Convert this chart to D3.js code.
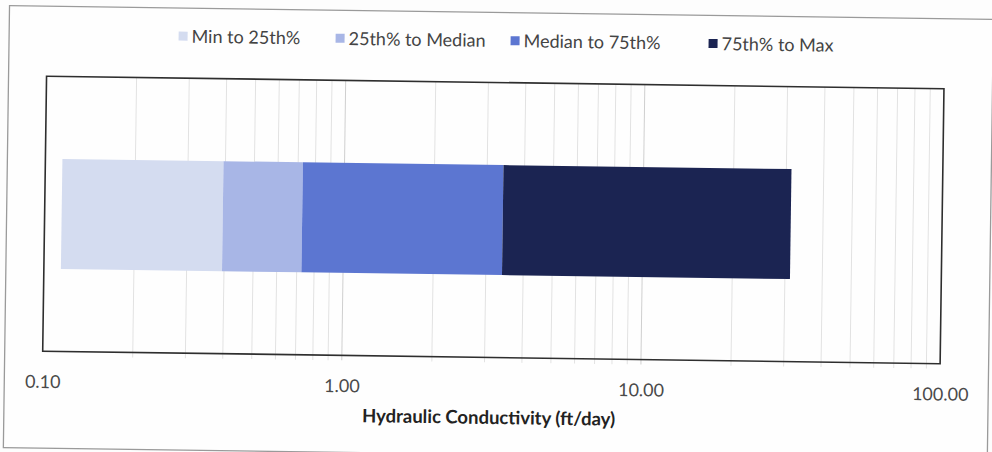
<!DOCTYPE html>
<html>
<head>
<meta charset="utf-8">
<script src="https://cdn.jsdelivr.net/npm/d3@7"></script>
<style>
  html, body { margin: 0; padding: 0; background: #fdfdfd; }
  svg { display: block; }
</style>
</head>
<body>
<svg id="chart" width="992" height="452"></svg>
<script>
// ---- data ----
const categories = ["Hydraulic Conductivity"];
const seriesNames = ["Min to 25th%", "25th% to Median", "Median to 75th%", "75th% to Max"];
// breakpoints: min, 25th percentile, median, 75th percentile, max (ft/day)
const quantileValues = [0.114, 0.394, 0.726, 3.40, 31.2];
const tickValues = [0.1, 1, 10, 100];
const tickLabels = ["0.10", "1.00", "10.00", "100.00"];
const axisTitle = "Hydraulic Conductivity (ft/day)";
const seriesColors = ["#d4dcf0", "#a8b6e6", "#5c76d1", "#1b2452"];

// ---- layout ----
const W = 992, H = 452;
const plot = { left: 44.5, right: 942, top: 82.5, bottom: 357.5 };
const FONT = "Lato, 'Open Sans', sans-serif";

const svg = d3.select("#chart");
const root = svg.append("g").attr("transform", `rotate(0.8, ${W / 2}, ${H / 2})`);

// outer chart frame
root.append("rect")
  .attr("x", 6.5).attr("y", 12.5).attr("width", 984).attr("height", 442)
  .attr("fill", "#fefefe").attr("stroke", "#9a9a9a").attr("stroke-width", 1.3);

const x = d3.scaleLog().domain([0.1, 100]).range([plot.left, plot.right]);
const y = d3.scaleBand().domain(categories).range([plot.top, plot.bottom]).paddingInner(0.6).paddingOuter(0.3);

// gridlines (minor and major)
const minor = [];
[0.1, 1, 10].forEach(d => { for (let k = 2; k <= 9; k++) minor.push(d * k); });
root.append("g").selectAll("line").data(minor).join("line")
  .attr("x1", d => x(d)).attr("x2", d => x(d))
  .attr("y1", plot.top).attr("y2", plot.bottom + 5)
  .attr("stroke", "#e2e2e2").attr("stroke-width", 1);
root.append("g").selectAll("line").data(tickValues.slice(1, -1)).join("line")
  .attr("x1", d => x(d)).attr("x2", d => x(d))
  .attr("y1", plot.top).attr("y2", plot.bottom + 5)
  .attr("stroke", "#cfcfcf").attr("stroke-width", 1);

// stacked segments
const segments = seriesNames.map((name, i) => ({
  name, cat: categories[0], x0: quantileValues[i], x1: quantileValues[i + 1], color: seriesColors[i]
}));
root.append("g").selectAll("rect").data(segments).join("rect")
  .attr("x", d => x(d.x0))
  .attr("width", d => x(d.x1) - x(d.x0))
  .attr("y", d => y(d.cat))
  .attr("height", y.bandwidth())
  .attr("fill", d => d.color);

// plot frame
root.append("rect")
  .attr("x", plot.left).attr("y", plot.top)
  .attr("width", plot.right - plot.left).attr("height", plot.bottom - plot.top)
  .attr("fill", "none").attr("stroke", "#2e2e2e").attr("stroke-width", 1.6);

// x axis labels
const axis = d3.axisBottom(x).tickValues(tickValues)
  .tickFormat((d, i) => tickLabels[i]).tickSize(0).tickPadding(24);
const ag = root.append("g").attr("transform", `translate(0, ${plot.bottom})`).call(axis);
ag.select(".domain").remove();
ag.selectAll("text")
  .attr("font-family", FONT).attr("font-size", 18).attr("fill", "#4a4a4a");

// axis title
root.append("text")
  .attr("x", (plot.left + plot.right) / 2 - 2).attr("y", 424)
  .attr("text-anchor", "middle")
  .attr("font-family", FONT).attr("font-size", 18.5).attr("font-weight", "bold").attr("fill", "#222")
  .text(axisTitle);

// legend
const legendX = [176, 333, 508, 706];
const lg = root.append("g").selectAll("g").data(segments).join("g")
  .attr("transform", (d, i) => `translate(${legendX[i]}, 41)`);
lg.append("rect").attr("x", 0).attr("y", -5).attr("width", 9).attr("height", 9)
  .attr("fill", d => d.color);
lg.append("text").attr("x", 13).attr("y", 6)
  .attr("font-family", FONT).attr("font-size", 18).attr("fill", "#444")
  .text(d => d.name);
</script>
</body>
</html>
